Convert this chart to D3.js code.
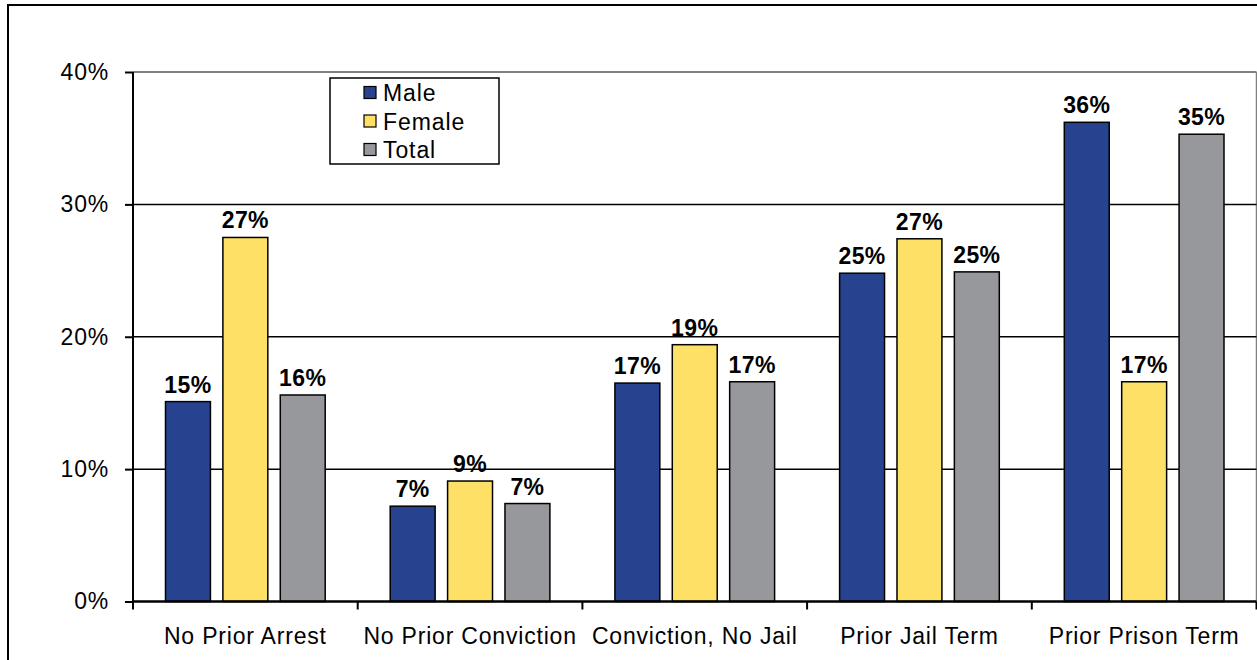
<!DOCTYPE html>
<html>
<head>
<meta charset="utf-8">
<script src="https://cdn.jsdelivr.net/npm/d3@7"></script>
<style>
  html, body { margin: 0; padding: 0; background: #fff; }
  svg { display: block; font-family: "Liberation Sans", Arial, sans-serif; }
</style>
</head>
<body>
<svg id="chart" width="1257" height="660"></svg>
<script>
const categories = ["No Prior Arrest", "No Prior Conviction", "Conviction, No Jail", "Prior Jail Term", "Prior Prison Term"];
const seriesNames = ["Male", "Female", "Total"];
const maleValues   = [15.1, 7.2, 16.5, 24.8, 36.2];
const femaleValues = [27.5, 9.1, 19.4, 27.4, 16.6];
const totalValues  = [15.6, 7.4, 16.6, 24.9, 35.3];
const valueLabels = {
  Male:   ["15%", "7%", "17%", "25%", "36%"],
  Female: ["27%", "9%", "19%", "27%", "17%"],
  Total:  ["16%", "7%", "17%", "25%", "35%"]
};
const yTicks = [0, 10, 20, 30, 40];
const yTickLabels = ["0%", "10%", "20%", "30%", "40%"];
const colors = { Male: "#27438f", Female: "#ffe066", Total: "#97989c" };

const seriesValues = { Male: maleValues, Female: femaleValues, Total: totalValues };

const svg = d3.select("#chart");

// outer frame
svg.append("rect").attr("x", 8).attr("y", 5).attr("width", 1300).attr("height", 700)
  .attr("fill", "none").attr("stroke", "#000").attr("stroke-width", 2);

const plot = { left: 133, right: 1256.5, top: 72, bottom: 601.5 };

const x0 = d3.scaleBand().domain(categories).range([plot.left, plot.right]).paddingInner(0).paddingOuter(0);
const x1 = d3.scaleBand().domain(seriesNames)
  .range([32.5, x0.bandwidth() - 32.5]).paddingInner(0.217).paddingOuter(0);
const y = d3.scaleLinear().domain([0, 40]).range([plot.bottom, plot.top]);

// plot area border (top & right, gray)
svg.append("line").attr("x1", plot.left).attr("x2", plot.right).attr("y1", y(40)).attr("y2", y(40))
  .attr("stroke", "#808080").attr("stroke-width", 2);
svg.append("line").attr("x1", plot.right).attr("x2", plot.right).attr("y1", y(40)).attr("y2", y(0))
  .attr("stroke", "#808080").attr("stroke-width", 1.5);

// gridlines
svg.append("g").selectAll("line").data(yTicks.filter(t => t > 0 && t < 40)).join("line")
  .attr("x1", plot.left).attr("x2", plot.right)
  .attr("y1", d => y(d)).attr("y2", d => y(d))
  .attr("stroke", "#000").attr("stroke-width", 1.5);

// bars
const groups = svg.append("g").selectAll("g").data(categories).join("g")
  .attr("transform", d => `translate(${x0(d)},0)`);

groups.selectAll("rect").data((c, i) => seriesNames.map(s => ({ s, v: seriesValues[s][i], i })))
  .join("rect")
  .attr("x", d => x1(d.s))
  .attr("width", x1.bandwidth())
  .attr("y", d => y(d.v))
  .attr("height", d => y(0) - y(d.v))
  .attr("fill", d => colors[d.s])
  .attr("stroke", "#000").attr("stroke-width", 1.5);

groups.selectAll("text").data((c, i) => seriesNames.map(s => ({ s, v: seriesValues[s][i], i })))
  .join("text")
  .attr("x", d => x1(d.s) + x1.bandwidth() / 2)
  .attr("y", d => y(d.v) - 9)
  .attr("text-anchor", "middle")
  .attr("font-size", 23).attr("font-weight", "bold").attr("fill", "#000")
  .attr("letter-spacing", 0.4)
  .text(d => valueLabels[d.s][d.i]);

// y axis
const yAxis = d3.axisLeft(y).tickValues(yTicks).tickFormat((d, i) => yTickLabels[i]).tickSize(8).tickPadding(16);
const gy = svg.append("g").attr("transform", `translate(${plot.left},0)`).call(yAxis);
gy.select(".domain").attr("stroke", "#000").attr("stroke-width", 2).attr("d", `M0,${y(40)}V${y(0)}`);
gy.selectAll(".tick line").attr("stroke", "#000").attr("stroke-width", 2);
gy.selectAll(".tick text").attr("font-size", 23).attr("fill", "#000")
  .attr("font-family", "Liberation Sans, Arial, sans-serif").attr("letter-spacing", 0.8);

// x axis
const xAxis = d3.axisBottom(x0).tickSize(0).tickPadding(26);
const gx = svg.append("g").attr("transform", `translate(0,${plot.bottom})`).call(xAxis);
gx.select(".domain").attr("stroke", "#000").attr("stroke-width", 2.5).attr("d", `M${plot.left},0H${plot.right}`);
gx.selectAll(".tick text").attr("font-size", 23).attr("fill", "#000")
  .attr("font-family", "Liberation Sans, Arial, sans-serif").attr("letter-spacing", 0.8)
  .attr("dy", "0.71em");
// category boundary ticks
gx.append("g").selectAll("line").data(categories.concat(["end"])).join("line")
  .attr("x1", (d, i) => i < categories.length ? x0(d) : plot.right)
  .attr("x2", (d, i) => i < categories.length ? x0(d) : plot.right)
  .attr("y1", 0).attr("y2", 8)
  .attr("stroke", "#000").attr("stroke-width", 2);

// legend
const legend = svg.append("g").attr("transform", "translate(330,78)");
legend.append("rect").attr("x", 0).attr("y", 0).attr("width", 169).attr("height", 86)
  .attr("fill", "#fff").attr("stroke", "#000").attr("stroke-width", 1.5);
const li = legend.selectAll("g.item").data(seriesNames).join("g").attr("class", "item")
  .attr("transform", (d, i) => `translate(34,${15 + i * 28.5})`);
li.append("rect").attr("x", 0).attr("y", -6.5).attr("width", 12).attr("height", 12)
  .attr("fill", d => colors[d]).attr("stroke", "#000").attr("stroke-width", 1.2);
li.append("text").attr("x", 19).attr("y", 0).attr("dy", "0.36em")
  .attr("font-size", 23).attr("fill", "#000").attr("letter-spacing", 0.9)
  .text(d => d);
</script>
</body>
</html>
